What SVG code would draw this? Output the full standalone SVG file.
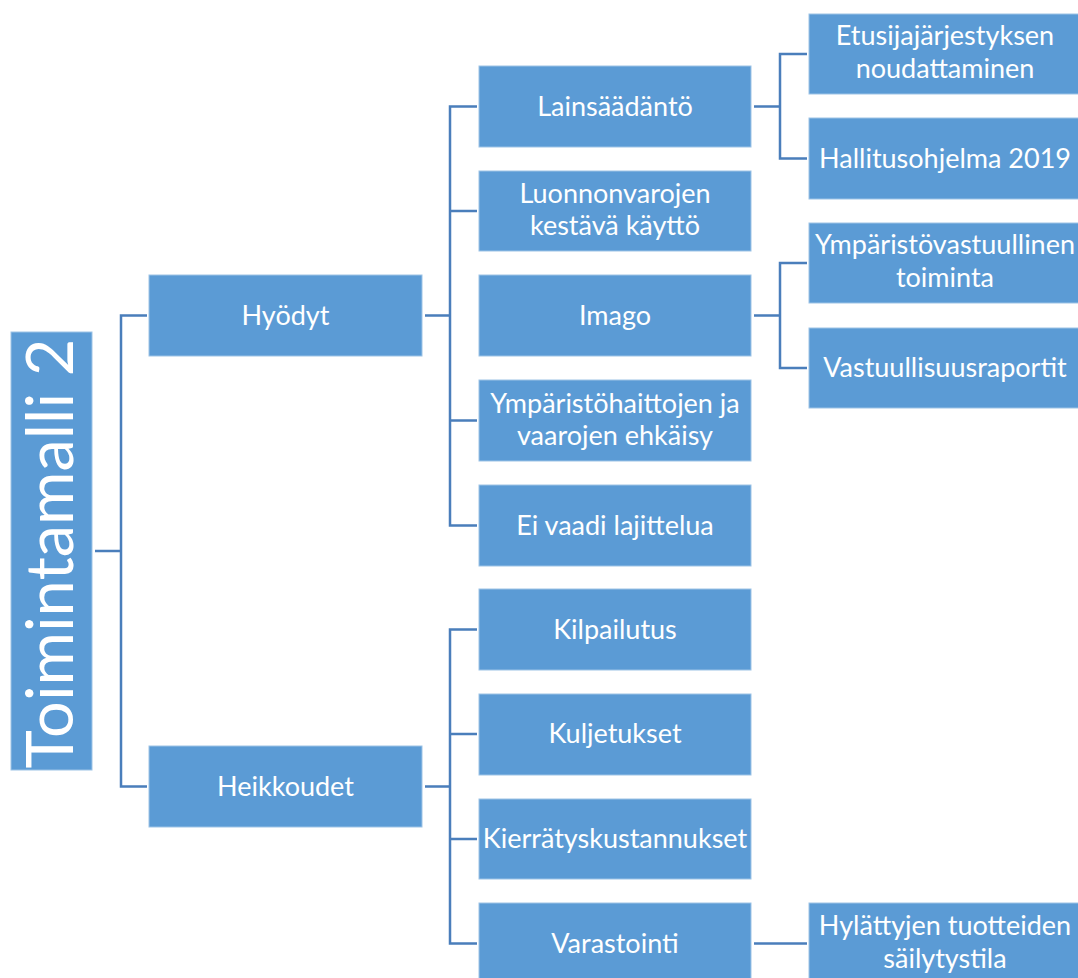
<svg xmlns="http://www.w3.org/2000/svg" width="1078" height="978" viewBox="0 0 1078 978">
  <style>
    .box { fill: #5b9bd5; stroke: #9dc3e6; stroke-width: 1; }
    .lbl { fill: #ffffff; font-family: Lato, "Liberation Sans", sans-serif; font-size: 27px; text-anchor: middle; }
    .root { fill: #ffffff; font-family: Lato, "Liberation Sans", sans-serif; font-size: 65px; text-anchor: middle; }
    .conn { fill: none; stroke: #4a7ebb; stroke-width: 2.5; }
  </style>
  <rect width="1078" height="978" fill="#ffffff"/>

  <g id="connectors">
    <path class="conn" d="M95,551 H121 M147,315.5 H121 V786.5 H147"/>
    <path class="conn" d="M425,315.5 H450 M477,106.5 H450 V525.5 H477 M450,211 H477 M450,420.5 H477"/>
    <path class="conn" d="M425,786.5 H450 M477,629.5 H450 V943.5 H477 M450,734 H477 M450,839 H477"/>
    <path class="conn" d="M754,106.5 H780 M807,54 H780 V158.5 H807"/>
    <path class="conn" d="M754,315.5 H780 M807,263 H780 V368 H807"/>
    <path class="conn" d="M754,943.5 H807"/>
  </g>

  <g id="root">
    <rect class="box" x="11" y="332" width="81" height="438"/>
    <text class="root" transform="translate(73,553.5) rotate(-90)">Toimintamalli 2</text>
  </g>

  <g id="hyodyt">
    <rect class="box" x="149" y="275" width="273" height="81"/>
    <text class="lbl" x="285.5" y="324.5">Hyödyt</text>
  </g>
  <g id="heikkoudet">
    <rect class="box" x="149" y="746" width="273" height="81"/>
    <text class="lbl" x="285.5" y="795.5">Heikkoudet</text>
  </g>

  <g id="lainsaadanto">
    <rect class="box" x="479" y="66" width="272" height="81"/>
    <text class="lbl" x="615" y="115.5">Lainsäädäntö</text>
  </g>
  <g id="luonnonvarat">
    <rect class="box" x="479" y="171" width="272" height="80"/>
    <text class="lbl" x="615" y="203">Luonnonvarojen</text>
    <text class="lbl" x="615" y="235">kestävä käyttö</text>
  </g>
  <g id="imago">
    <rect class="box" x="479" y="275" width="272" height="81"/>
    <text class="lbl" x="615" y="324.5">Imago</text>
  </g>
  <g id="ymparistohaitat">
    <rect class="box" x="479" y="380" width="272" height="81"/>
    <text class="lbl" x="615" y="412.5">Ympäristöhaittojen ja</text>
    <text class="lbl" x="615" y="444.5">vaarojen ehkäisy</text>
  </g>
  <g id="ei-lajittelua">
    <rect class="box" x="479" y="485" width="272" height="81"/>
    <text class="lbl" x="615" y="534.5">Ei vaadi lajittelua</text>
  </g>

  <g id="kilpailutus">
    <rect class="box" x="479" y="589" width="272" height="81"/>
    <text class="lbl" x="615" y="638.5">Kilpailutus</text>
  </g>
  <g id="kuljetukset">
    <rect class="box" x="479" y="694" width="272" height="81"/>
    <text class="lbl" x="615" y="743">Kuljetukset</text>
  </g>
  <g id="kierratyskustannukset">
    <rect class="box" x="479" y="799" width="272" height="80"/>
    <text class="lbl" x="615" y="848">Kierrätyskustannukset</text>
  </g>
  <g id="varastointi">
    <rect class="box" x="479" y="903" width="272" height="81"/>
    <text class="lbl" x="615" y="952.5">Varastointi</text>
  </g>

  <g id="etusijajarjestys">
    <rect class="box" x="809" y="14" width="272" height="80"/>
    <text class="lbl" x="945" y="45">Etusijajärjestyksen</text>
    <text class="lbl" x="945" y="78">noudattaminen</text>
  </g>
  <g id="hallitusohjelma">
    <rect class="box" x="809" y="118" width="272" height="81"/>
    <text class="lbl" x="945" y="167.5">Hallitusohjelma 2019</text>
  </g>
  <g id="ymparistovastuu">
    <rect class="box" x="809" y="223" width="272" height="80"/>
    <text class="lbl" x="945" y="254">Ympäristövastuullinen</text>
    <text class="lbl" x="945" y="287">toiminta</text>
  </g>
  <g id="vastuullisuusraportit">
    <rect class="box" x="809" y="328" width="272" height="80"/>
    <text class="lbl" x="945" y="376.5">Vastuullisuusraportit</text>
  </g>
  <g id="hylatyt-tuotteet">
    <rect class="box" x="809" y="903" width="272" height="81"/>
    <text class="lbl" x="945" y="935">Hylättyjen tuotteiden</text>
    <text class="lbl" x="945" y="968">säilytystila</text>
  </g>
</svg>
